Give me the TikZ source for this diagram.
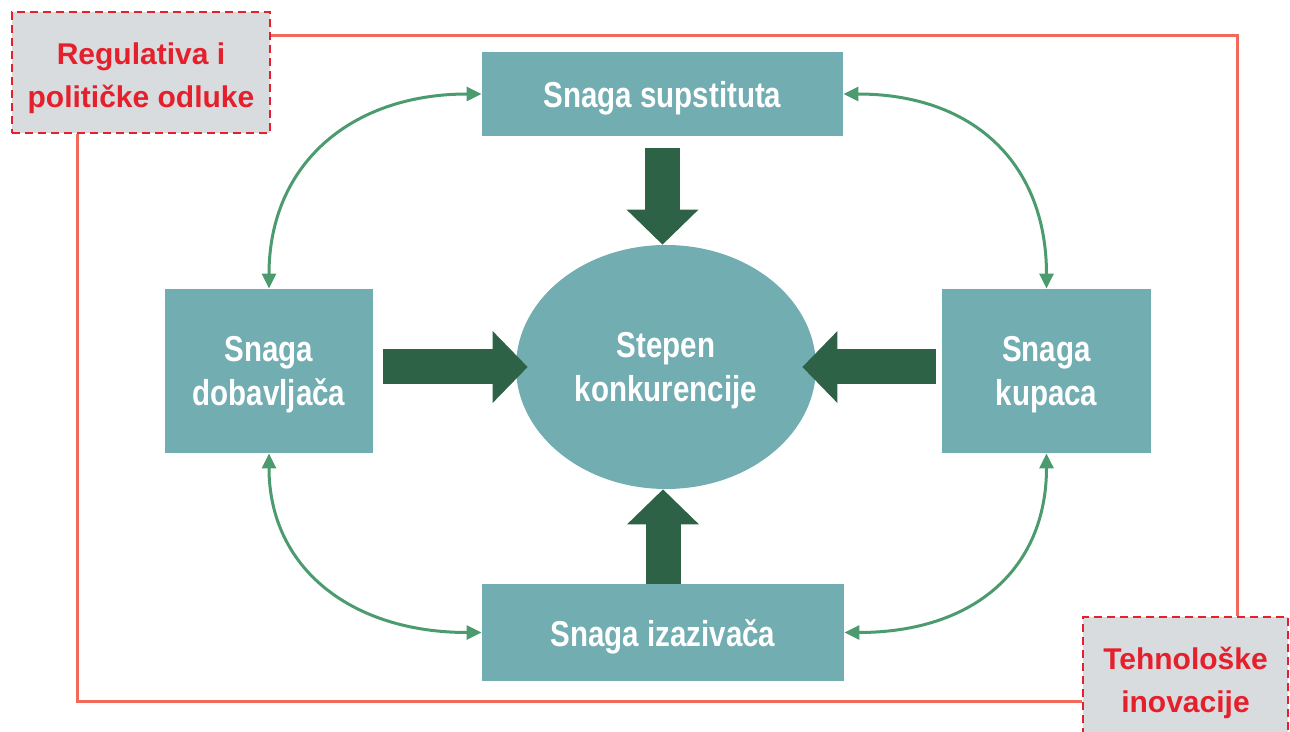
\documentclass[tikz,border=0pt]{standalone}
\usepackage{fontspec}
\setmainfont{Liberation Sans}
\newfontfamily\narrowfont[FakeStretch=0.82]{Liberation Sans}
\usepackage{tikz}
\usetikzlibrary{arrows.meta,calc,shapes.geometric}
\definecolor{boxteal}{HTML}{72ADB2}
\definecolor{pushgreen}{HTML}{2D6246}
\definecolor{linkgreen}{HTML}{4B9B6F}
\definecolor{framered}{HTML}{F0695A}
\definecolor{labelred}{HTML}{E5202C}
\definecolor{labelgray}{HTML}{D8DCDE}

\begin{document}
\begin{tikzpicture}[x=0.5pt,y=-0.5pt,
    force box/.style={fill=boxteal, text=white, inner sep=0pt, align=center, text depth=0pt,
      font=\narrowfont\bfseries\fontsize{18}{22}\selectfont},
    outer box/.style={draw=labelred, dashed, dash pattern=on 4pt off 2.5pt, line width=1.2pt,
      fill=labelgray, text=labelred, inner sep=0pt, align=center, text depth=0pt,
      font=\bfseries\fontsize{15}{21.5}\selectfont},
    push/.style={draw=pushgreen, line width=17.5pt,
      -{Triangle[length=17.5pt,width=36pt,line width=0pt]}},
    link/.style={draw=linkgreen, line width=1.5pt,
      {Triangle[length=7.5pt,width=7pt]}-{Triangle[length=7.5pt,width=7pt]}},
    frame/.style={draw=framered, line width=1.5pt}]
          \useasboundingbox (0,0) rectangle (1290,732);

          % outside influences
          \node[outer box, text height=35.5pt, minimum width=129pt, minimum height=60.5pt] (Regulativa) at (141,72.5) {Regulativa i\\političke odluke};
          \node[outer box, text height=37pt, minimum width=102.5pt, minimum height=58pt] (Tehnologija) at (1185.5,675) {Tehnološke\\inovacije};

          \draw[frame] ($(Regulativa.north east)!0.2!(Regulativa.south east)$) -| ($(Tehnologija.north west)!0.75!(Tehnologija.north east)$);
          \draw[frame] ($(Regulativa.south west)!0.256!(Regulativa.south east)$) |- ($(Tehnologija.north west)!0.72!(Tehnologija.south west)$);

          % five forces
          \node[force box, text height=14pt, minimum width=180.5pt, minimum height=42pt] (Supstituti) at (662.5,94) {Snaga supstituta};
          \node[force box, text height=35pt, minimum width=104pt, minimum height=82pt] (Dobavljaci) at (269,371) {Snaga\\dobavljača};
          \node[force box, text height=35pt, minimum width=104.5pt, minimum height=82pt] (Kupci) at (1046.5,371) {Snaga\\kupaca};
          \node[force box, text height=13.5pt, minimum width=181pt, minimum height=48.5pt] (Izazivaci) at (663,632.5) {Snaga izazivača};
          \node[force box, ellipse, text height=34.5pt, minimum width=150pt, minimum height=122pt] (Konkurencija) at (666,367) {Stepen\\konkurencije};

          \draw[push, shorten <=6pt] (Supstituti.south) to (Supstituti.south |- Konkurencija.north);
          \draw[push, shorten <=5pt, shorten >=-6pt] (Dobavljaci.east |- Konkurencija.west) to (Konkurencija.west);
          \draw[push, shorten <=3pt, shorten >=-7pt] (Kupci.west |- Konkurencija.east) to (Konkurencija.east);
          \draw[push] (Izazivaci.north) to (Izazivaci.north |- Konkurencija.south);

          \draw[link] (Supstituti.west) .. controls +(-130,0) and +(0,-125) .. (Dobavljaci.north);
          \draw[link] (Supstituti.east) .. controls +(130,0) and +(0,-125) .. (Kupci.north);
          \draw[link] (Dobavljaci.south) .. controls +(0,115) and +(-130,0) .. (Izazivaci.west);
          \draw[link] (Kupci.south) .. controls +(0,115) and +(130,0) .. (Izazivaci.east);
        \end{tikzpicture}
\end{document}
